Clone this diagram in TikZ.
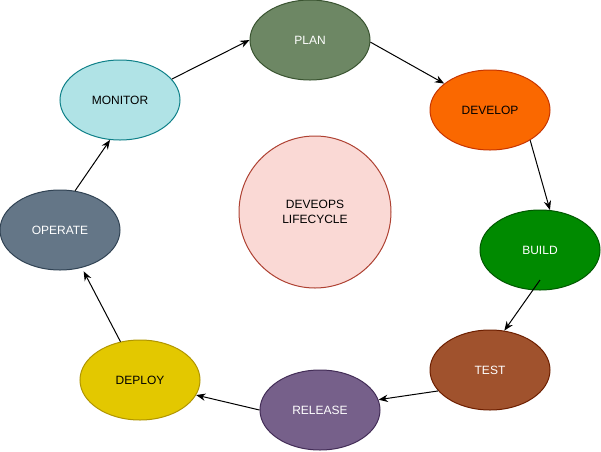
\documentclass[tikz,border=0pt]{standalone}
\usepackage{fontspec}
\setmainfont{Liberation Sans}
\usetikzlibrary{shapes.geometric,arrows.meta}
\definecolor{planF}{HTML}{6D8764}\definecolor{planD}{HTML}{3A5431}
\definecolor{devF}{HTML}{FA6800}\definecolor{devD}{HTML}{C73500}
\definecolor{buildF}{HTML}{008A00}\definecolor{buildD}{HTML}{005700}
\definecolor{testF}{HTML}{A0522D}\definecolor{testD}{HTML}{6D1F00}
\definecolor{relF}{HTML}{76608A}\definecolor{relD}{HTML}{432D57}
\definecolor{depF}{HTML}{E3C800}\definecolor{depD}{HTML}{B09500}
\definecolor{opF}{HTML}{647687}\definecolor{opD}{HTML}{314354}
\definecolor{monF}{HTML}{B0E3E6}\definecolor{monD}{HTML}{0E8088}
\definecolor{cenF}{HTML}{FAD9D5}\definecolor{cenD}{HTML}{AE4132}
\begin{document}
\begin{tikzpicture}[x=0.75pt,y=-0.75pt,
  phase/.style={ellipse,draw,line width=0.75pt,minimum width=90pt,minimum height=60pt,inner sep=0pt,
    font=\fontsize{9}{10.8}\selectfont},
  conn/.style={line width=0.75pt,-{Stealth[length=7pt,width=5.5pt]}}]
\useasboundingbox (0,0) rectangle (601,451);
\node[phase,fill=planF,draw=planD,text=white] (plan) at (310,40) {PLAN};
\node[phase,fill=devF,draw=devD,text=black] (develop) at (490,110) {DEVELOP};
\node[phase,fill=buildF,draw=buildD,text=white] (build) at (540,250) {BUILD};
\node[phase,fill=testF,draw=testD,text=white] (test) at (490,370) {TEST};
\node[phase,fill=relF,draw=relD,text=white] (release) at (320,410) {RELEASE};
\node[phase,fill=depF,draw=depD,text=black] (deploy) at (140,380) {DEPLOY};
\node[phase,fill=opF,draw=opD,text=white] (operate) at (60,230) {OPERATE};
\node[phase,fill=monF,draw=monD,text=black] (monitor) at (120,100) {MONITOR};
\node[circle,draw=cenD,fill=cenF,line width=0.75pt,minimum size=114pt,inner sep=0pt,align=center,
  font=\fontsize{9}{10.8}\selectfont] (center) at (315,212) {DEVEOPS\\LIFECYCLE};
\coordinate (buildout) at (540,280);
\draw[conn] (monitor.22) -- (plan.180);
\draw[conn] (plan.-2) -- (develop.150);
\draw[conn] (develop.-37) -- (build.76);
\draw[conn] (buildout) -- (test.70);
\draw[conn] (test.202) -- (release.10);
\draw[conn] (release.180) -- (deploy.-15);
\draw[conn,shorten >=3pt] (deploy.117) -- (operate.-60);
\draw[conn] (operate.69) -- (monitor.-104);
\end{tikzpicture}
\end{document}
